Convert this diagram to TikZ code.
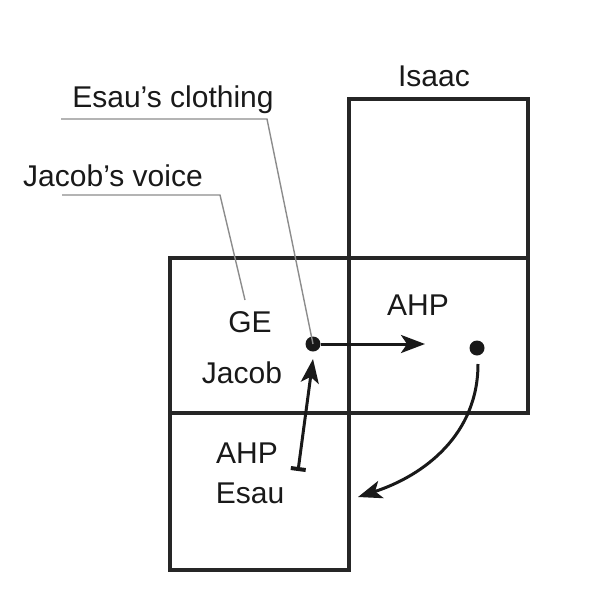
\documentclass[tikz,border=0pt]{standalone}
\usepackage{fontspec}
\setmainfont{Liberation Sans}
\usetikzlibrary{arrows.meta}

\begin{document}
\begin{tikzpicture}[x=1pt,y=-1pt,font=\fontsize{30}{35}\selectfont]
  \useasboundingbox (0,0) rectangle (592,600);
  \tikzset{cell/.style={draw=black!85,line width=3.6pt}}
  \tikzset{lead/.style={draw=black!45,line width=1.4pt}}
  \tikzset{lbl/.style={anchor=base,inner sep=0pt,text=black!90}}
  \tikzset{flow/.style={draw=black!90,line width=3pt}}
  \tikzset{dot/.style={circle,fill=black!90,inner sep=0pt,minimum size=15pt}}
  \tikzset{tip/.style={-{Stealth[length=24pt,width=18pt,inset=6pt]}}}

  % Cells: column edges x, row edges y
  \def\xa{170}
  \def\xb{349}
  \def\xc{528}
  \def\ya{99}
  \def\yb{258}
  \def\yc{413}
  \def\yd{570}

  \draw[cell] (\xb,\ya) rectangle (\xc,\yb);
  \draw[cell] (\xa,\yb) rectangle (\xb,\yc);
  \draw[cell] (\xb,\yb) rectangle (\xc,\yc);
  \draw[cell] (\xa,\yc) rectangle (\xb,\yd);

  % Labels
  \node[lbl] (isaac) at (434,86) {Isaac};
  \node[lbl] (clothing) at (173,107) {Esau’s clothing};
  \node[lbl] (voice) at (113,186) {Jacob’s voice};
  \node[lbl] (ge) at (250,332) {GE};
  \node[lbl] (jacob) at (242,383) {Jacob};
  \node[lbl] (ahpI) at (418,315) {AHP};
  \node[lbl] (ahpE) at (247,463) {AHP};
  \node[lbl] (esau) at (250,503) {Esau};

  % Dots
  \node[dot] (dJ) at (313,344) {};
  \node[dot] (dI) at (477,348) {};

  % Leader lines
  \coordinate (cl0) at (61,119);
  \coordinate (cl1) at (267,119);
  \coordinate (vo0) at (62,195);
  \coordinate (vo1) at (220,195);
  \coordinate (vo2) at (245,300);
  \draw[lead] (cl0) -- (cl1) -- (dJ.center);
  \draw[lead] (vo0) -- (vo1) -- (vo2);

  % Arrows
  \coordinate (tipR) at (425,344);
  \coordinate (bar) at (298,471);
  \coordinate (tipU) at (313,359);
  \coordinate (cv0) at (478,364);
  \coordinate (tipC) at (358,497);
  \draw[flow,tip] (dJ) -- (tipR);
  \draw[flow,{Bar[width=15pt,line width=4pt]}-{Stealth[length=24pt,width=18pt,inset=6pt]}] (bar) -- (tipU);
  \draw[flow,tip] (cv0) to[out=-90,in=18] (tipC);
\end{tikzpicture}
\end{document}
